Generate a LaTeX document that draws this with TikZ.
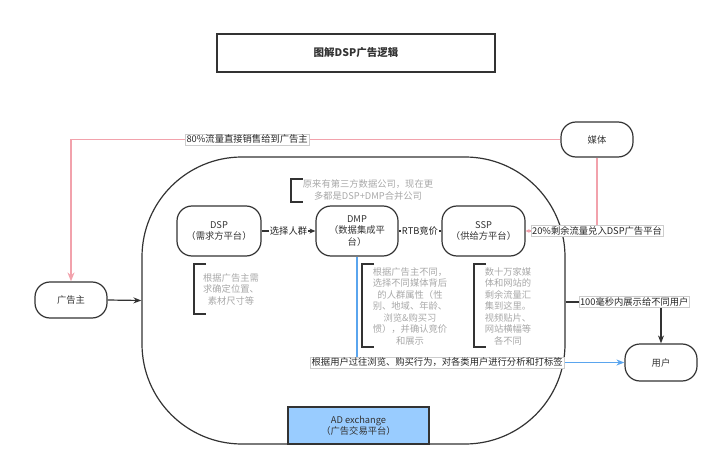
\documentclass[tikz,border=0pt]{standalone}
\usepackage{fontspec}
\setmainfont{Noto Sans CJK SC}
\usetikzlibrary{arrows.meta}
\definecolor{pinkl}{HTML}{F2A2AC}
\definecolor{bluel}{HTML}{5AA5EE}
\definecolor{dark}{HTML}{333333}
\definecolor{notec}{HTML}{A8A8A8}
\definecolor{adfill}{HTML}{99CCFF}
\begin{document}
\begin{tikzpicture}[x=1pt,y=-1pt,
  font=\fontsize{9.3}{11.5}\selectfont,
  box/.style={draw=dark, line width=1.2pt, rounded corners=15pt, align=center, inner sep=0pt, text=dark, minimum width=#1},
  box/.default=72pt,
  lbl/.style={fill=white, draw=gray!40, line width=0.4pt, inner sep=1pt, text=black!85},
  plainlbl/.style={fill=white, inner sep=1pt, text=black!85},
  notetxt/.style={text=notec, align=center, inner sep=0pt},
  bracketline/.style={draw=dark, line width=1.2pt},
  conn/.style={draw=dark, line width=1.2pt, -{Stealth[length=8pt,width=6pt]}},
  pinkconn/.style={draw=pinkl, line width=1.4pt},
  blueconn/.style={draw=bluel, line width=1.4pt, -{Stealth[length=8pt,width=6pt]}}
]
\useasboundingbox (0,0) rectangle (720,468);

% title
\node[draw=dark, line width=1.2pt, minimum width=278pt, minimum height=38pt, font=\fontsize{10.5}{12}\selectfont\bfseries, text=dark] (title) at (356,53) {图解DSP广告逻辑};

% container
\node[draw=dark, line width=1.2pt, rounded corners=100pt, minimum width=423pt, minimum height=287pt] (platform) at (353.5,300.5) {};

% AD exchange
\node[draw=dark, line width=1.2pt, fill=adfill, minimum width=141pt, minimum height=37pt, align=center, inner sep=0pt, text=dark] (adx) at (358.5,425.5) {AD exchange\\（广告交易平台）};

% outer nodes
\node[box, minimum height=35pt] (media) at (597,139.5) {媒体};
\node[box, minimum height=36pt] (adv) at (71,300) {广告主};
\node[box, minimum height=37pt] (user) at (661,362.5) {用户};

% inner nodes
\node[box=84pt, minimum height=50pt] (dsp) at (219,231) {DSP\\（需求方平台）};
\node[box=82pt, minimum height=50pt] (dmp) at (357,231) {DMP\\（数据集成平\\台）};
\node[box=83pt, minimum height=50pt] (ssp) at (483.5,231) {SSP\\（供给方平台）};

% notes
\node[notetxt] (n1) at (368,190) {原来有第三方数据公司，现在更\\多都是DSP+DMP合并公司};
\draw[bracketline] (303,179) -- (291,179) -- (291,202) -- (303,202);

\node[notetxt] (n2) at (231,289) {根据广告主需\\求确定位置、\\素材尺寸等};
\draw[bracketline] (206,264) -- (194,264) -- (194,314) -- (206,314);

\node[notetxt] (n3) at (410,306) {根据广告主不同，\\选择不同媒体背后\\的人群属性（性\\别、地域、年龄、\\浏览\&购买习\\惯），并确认竞价\\和展示};
\draw[bracketline] (374,264) -- (362,264) -- (362,347) -- (374,347);

\node[notetxt] (n4) at (508,306) {数十万家媒\\体和网站的\\剩余流量汇\\集到这里。\\视频贴片、\\网站横幅等\\各不同};
\draw[bracketline] (486,264) -- (474,264) -- (474,347) -- (486,347);

% connectors
\draw[pinkconn, -{Stealth[length=9pt,width=7pt]}] (media.west) -| node[lbl, pos=0.32] {80\%流量直接销售给到广告主} (adv.north);
\draw[pinkconn, -{Stealth[length=4pt,width=4pt]}] (media.south) |- node[lbl, pos=0.5] {20\%剩余流量兑入DSP广告平台} (ssp.east);

\draw[conn] (adv.east) -- (platform.west);
\draw[conn] (platform.east |- 0,302) -| node[lbl, pos=0.36] {100毫秒内展示给不同用户} (user.north);

\draw[conn, -{Stealth[length=6pt,width=5pt]}] (dsp.east) -- node[plainlbl] {选择人群} (dmp.west);
\draw[draw=dark, line width=1.2pt] (ssp.west) -- node[plainlbl] {RTB竞价} (dmp.east);

\draw[blueconn] (dmp.south) |- node[lbl, pos=0.65] {根据用户过往浏览、购买行为，对各类用户进行分析和打标签} (user.west);
\end{tikzpicture}
\end{document}
